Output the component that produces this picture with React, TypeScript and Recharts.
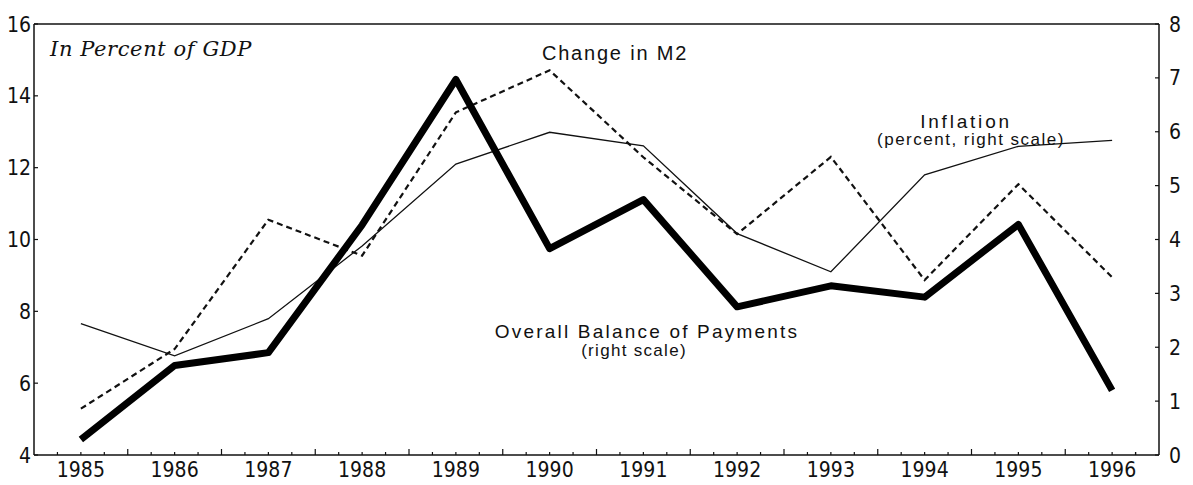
import { LineChart, Line, XAxis, YAxis, ReferenceLine } from 'recharts';

const years = [1985, 1986, 1987, 1988, 1989, 1990, 1991, 1992, 1993, 1994, 1995, 1996];
// Change in M2, in percent of GDP (left scale)
const changeInM2 = [5.29, 6.95, 10.55, 9.55, 13.54, 14.71, 12.29, 10.15, 12.3, 8.87, 11.54, 8.95];
// Inflation, percent (right scale)
const inflation = [2.44, 1.84, 2.53, 3.88, 5.4, 5.99, 5.74, 4.11, 3.4, 5.2, 5.73, 5.84];
// Overall balance of payments (right scale)
const balanceOfPayments = [0.29, 1.66, 1.9, 4.27, 6.97, 3.83, 4.74, 2.75, 3.14, 2.93, 4.28, 1.2];

const leftTicks = [4, 6, 8, 10, 12, 14, 16];
const rightTicks = [0, 1, 2, 3, 4, 5, 6, 7, 8];
// quarter-year marks along the bottom axis
const xTicks = years.flatMap((y) => [y - 0.25, y, y + 0.25, y + 0.5]).concat([1996.25]).filter((t) => t > 1984.5 && t < 1996.5);

const data = years.map((year, i) => ({
  year,
  m2: changeInM2[i],
  inflation: inflation[i],
  bop: balanceOfPayments[i],
}));

const tickFont = '"Liberation Sans Narrow", "DejaVu Sans Condensed", sans-serif';
const labelFont = '"Liberation Sans", Arial, sans-serif';
const ink = '#111';

const XTick = (props: any) => {
  const { x, y, payload } = props;
  const v = payload.value as number;
  const frac = Math.round((v % 1) * 100) / 100;
  const isYear = frac === 0;
  const len = frac === 0.5 ? 6 : 3;
  return (
    <g>
      <line x1={x} x2={x} y1={y} y2={y - len} stroke={ink} strokeWidth={1.2} />
      {isYear && (
        <text x={x} y={y + 22} textAnchor="middle" fontFamily={tickFont} fontSize={21} fill={ink}>
          {v}
        </text>
      )}
    </g>
  );
};

const LeftTick = (props: any) => {
  const { x, y, payload } = props;
  return (
    <g>
      <line x1={x} x2={x + 4} y1={y} y2={y} stroke={ink} strokeWidth={1.2} />
      <text x={x - 3} y={y} dy="0.36em" textAnchor="end" fontFamily={tickFont} fontSize={21} fill={ink}>
        {payload.value}
      </text>
    </g>
  );
};

const RightTick = (props: any) => {
  const { x, y, payload } = props;
  return (
    <g>
      <line x1={x} x2={x - 4} y1={y} y2={y} stroke={ink} strokeWidth={1.2} />
      <text x={x + 10} y={y} dy="0.36em" textAnchor="start" fontFamily={tickFont} fontSize={21} fill={ink}>
        {payload.value}
      </text>
    </g>
  );
};

export default function App() {
  return (
    <div style={{ position: 'relative', width: 1185, height: 477 }}>
      <LineChart width={1185} height={477} data={data} margin={{ top: 16, right: 0, bottom: 0, left: 0 }}>
        <XAxis
          dataKey="year"
          type="number"
          domain={[1984.5, 1996.5]}
          ticks={xTicks}
          interval={0}
          tick={<XTick />}
          tickLine={false}
          tickSize={0}
          tickMargin={0}
          height={30}
          axisLine={{ stroke: ink, strokeWidth: 1.5 }}
        />
        <YAxis
          yAxisId="left"
          domain={[4, 16]}
          ticks={leftTicks}
          interval={0}
          width={26}
          tick={<LeftTick />}
          tickLine={false}
          tickSize={0}
          tickMargin={0}
          axisLine={{ stroke: ink, strokeWidth: 1.5 }}
        />
        <YAxis
          yAxisId="right"
          orientation="right"
          domain={[0, 8]}
          ticks={rightTicks}
          interval={0}
          width={34}
          tick={<RightTick />}
          tickLine={false}
          tickSize={0}
          tickMargin={0}
          axisLine={{ stroke: ink, strokeWidth: 1.5 }}
        />
        <ReferenceLine yAxisId="left" y={16} stroke={ink} strokeWidth={1.5} />
        <Line
          yAxisId="left"
          dataKey="m2"
          stroke={ink}
          strokeWidth={2.2}
          strokeDasharray="6 4"
          dot={false}
          isAnimationActive={false}
        />
        <Line yAxisId="right" dataKey="inflation" stroke={ink} strokeWidth={1.3} dot={false} isAnimationActive={false} />
        <Line
          yAxisId="right"
          dataKey="bop"
          stroke="#000"
          strokeWidth={7}
          strokeLinejoin="round"
          dot={false}
          isAnimationActive={false}
        />
      </LineChart>
      <svg width={1185} height={477} style={{ position: 'absolute', left: 0, top: 0, pointerEvents: 'none' }}>
        <text x={42} y={48} fontFamily='"DejaVu Serif", serif' fontStyle="italic" fontSize={21} letterSpacing={0.6} fill={ink}>
          In Percent of GDP
        </text>
        <text x={607} y={52} textAnchor="middle" fontFamily={labelFont} fontSize={20} letterSpacing={1.8} fill={ink}>
          Change in M2
        </text>
        <text x={958} y={120} textAnchor="middle" fontFamily={labelFont} fontSize={19} letterSpacing={2.8} fill={ink}>
          Inflation
        </text>
        <text x={963} y={137} textAnchor="middle" fontFamily={labelFont} fontSize={17} letterSpacing={1.5} fill={ink}>
          (percent, right scale)
        </text>
        <text x={639} y={330} textAnchor="middle" fontFamily={labelFont} fontSize={19} letterSpacing={2.2} fill={ink}>
          Overall Balance of Payments
        </text>
        <text x={626} y={348} textAnchor="middle" fontFamily={labelFont} fontSize={17} letterSpacing={1.3} fill={ink}>
          (right scale)
        </text>
      </svg>
    </div>
  );
}
